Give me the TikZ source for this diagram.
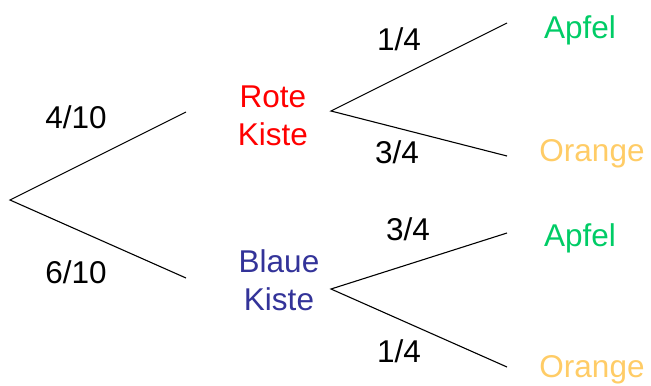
\documentclass[tikz,border=0pt]{standalone}
\usepackage{fontspec}
\setmainfont{Liberation Sans}
\definecolor{kred}{HTML}{FF0000}
\definecolor{kblue}{HTML}{333399}
\definecolor{kgreen}{HTML}{00CC66}
\definecolor{korange}{HTML}{FFCC66}
\begin{document}
\begin{tikzpicture}[x=1bp,y=-1bp,
  lbl/.style={font=\fontsize{31.5bp}{38bp}\selectfont, inner sep=0pt, anchor=base},
  branch/.style={draw=black, line width=1.1bp}]
\useasboundingbox (0,0) rectangle (651,385);
% branch points
\coordinate (root) at (10,200);
\coordinate (r1) at (186,112);
\coordinate (b1) at (186,278);
\coordinate (r2) at (331,111);
\coordinate (b2) at (331,289);
\coordinate (ra) at (507,23);
\coordinate (ro) at (507,156);
\coordinate (ba) at (507,233);
\coordinate (bo) at (507,367);
% labels
\node[lbl] (p410) at (76,128) {4/10};
\node[lbl] (p610) at (76,283) {6/10};
\node[lbl, text=kred, align=center] (rote) at (273,145) {Rote\\Kiste};
\node[lbl, text=kblue, align=center] (blaue) at (279,310) {Blaue\\Kiste};
\node[lbl] (q1) at (399,50) {1/4};
\node[lbl] (q2) at (397,163) {3/4};
\node[lbl] (q3) at (408,240) {3/4};
\node[lbl] (q4) at (399,362) {1/4};
\node[lbl, text=kgreen] (apfel1) at (580,38) {Apfel};
\node[lbl, text=korange] (orange1) at (592,161) {Orange};
\node[lbl, text=kgreen] (apfel2) at (580,246) {Apfel};
\node[lbl, text=korange] (orange2) at (592,377) {Orange};
% connectors
\draw[branch] (r1) -- (root) -- (b1);
\draw[branch] (ra) -- (r2) -- (ro);
\draw[branch] (ba) -- (b2) -- (bo);
\end{tikzpicture}
\end{document}
